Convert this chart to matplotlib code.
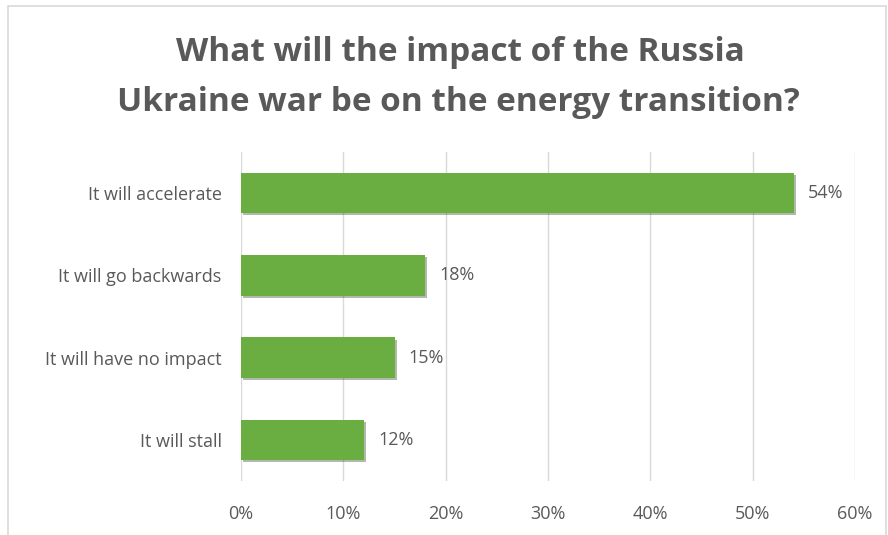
import matplotlib.pyplot as plt
import matplotlib.patheffects as pe
from matplotlib.patches import Rectangle

categories = ['It will accelerate', 'It will go backwards', 'It will have no impact', 'It will stall']
values = [54, 18, 15, 12]
ticks = [0, 10, 20, 30, 40, 50, 60]

plt.rcParams['font.family'] = ['Open Sans', 'DejaVu Sans']

fig = plt.figure(figsize=(8.88, 5.35), dpi=100)
W, H = 888, 535
ax = fig.add_axes([241 / W, 1 - 481 / H, (855 - 241) / W, (481 - 152) / H])

# light frame around the chart area
fig.add_artist(Rectangle((8 / W, -0.1), (886 - 8) / W, 1.1 - 6 / H,
                         transform=fig.transFigure, fill=False,
                         edgecolor='#d9d9d9', linewidth=1.2))

ypos = list(range(len(categories)))[::-1]
bars = ax.barh(ypos, values, height=0.49, color='#6aad41', zorder=3,
               path_effects=[pe.SimplePatchShadow(offset=(1.5, -1.5), alpha=0.35),
                             pe.Normal()])
for y, v in zip(ypos, values):
    ax.text(v + 1.4, y, f'{v}%', va='center', ha='left', fontsize=13, color='#595959')

ax.set_xlim(0, 60)
ax.set_ylim(-0.5, 3.5)
ax.set_xticks(ticks)
ax.set_xticklabels([f'{t}%' for t in ticks], fontsize=13, color='#595959')
ax.set_yticks(ypos)
ax.set_yticklabels(categories, fontsize=13, color='#595959')
ax.tick_params(axis='x', length=0, pad=17)
ax.tick_params(axis='y', length=0, pad=14)
ax.grid(axis='x', color='#d9d9d9', linewidth=1, zorder=0)
for s in ax.spines.values():
    s.set_visible(False)

fig.text(460 / W, 1 - 52 / H, 'What will the impact of the Russia', ha='center', va='center',
         fontsize=24, fontweight='bold', color='#595959')
fig.text(458 / W, 1 - 102 / H, 'Ukraine war be on the energy transition?', ha='center', va='center',
         fontsize=24, fontweight='bold', color='#595959')

fig.savefig('out.png', dpi=100)
